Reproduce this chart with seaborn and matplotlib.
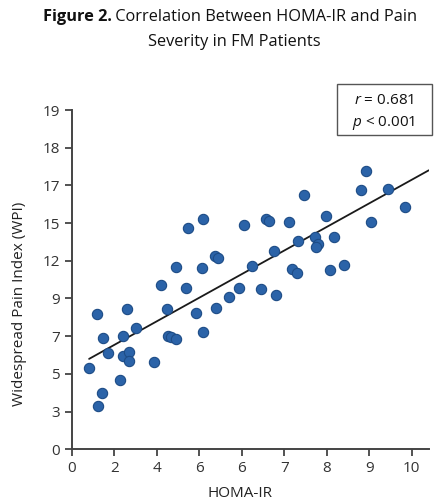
import numpy as np
import matplotlib
matplotlib.use("Agg")
import matplotlib.pyplot as plt
import seaborn as sns
from matplotlib.patches import Rectangle

# HOMA-IR (x) and WPI (y) in tick-position units
homa = [0.41, 0.60, 0.74, 0.85, 0.71, 0.63, 1.14, 1.20, 1.21, 1.36, 1.36, 1.29,
        1.51, 1.94, 2.10, 2.24, 2.27, 2.33, 2.45, 2.69, 2.93, 3.08, 3.39, 3.69,
        3.94, 4.45, 2.45, 3.07, 2.74, 3.08, 3.37, 3.45, 4.05, 4.24, 4.81, 4.57,
        4.65, 4.76, 5.12, 5.18, 5.29, 5.32, 5.47, 5.73, 5.80, 5.75, 5.98, 6.16,
        6.08, 6.41, 6.81, 6.92, 7.04, 7.45, 7.84]
wpi = [2.15, 3.59, 2.94, 2.55, 1.49, 1.15, 1.84, 3.01, 2.48, 2.57, 2.34, 3.71,
       3.21, 2.31, 4.37, 3.71, 3.01, 2.98, 2.92, 4.28, 3.62, 3.10, 3.75, 4.05,
       4.29, 4.24, 4.83, 4.80, 5.86, 6.11, 5.13, 5.07, 5.94, 4.85, 4.09, 6.11,
       6.06, 5.27, 6.02, 4.78, 4.67, 5.53, 6.75, 5.62, 5.44, 5.36, 6.19, 5.64,
       4.76, 4.89, 6.88, 7.39, 6.02, 6.90, 6.44]

x_ticklabels = ["0", "2", "4", "6", "6", "7", "8", "9", "10"]
y_ticklabels = ["0", "3", "5", "7", "9", "12", "15", "17", "18", "19"]

sns.set_style("ticks")
plt.rcParams['font.family'] = ['Open Sans', 'DejaVu Sans']
plt.rcParams['mathtext.fontset'] = 'custom'
plt.rcParams['mathtext.it'] = 'Open Sans:italic'
plt.rcParams['mathtext.rm'] = 'Open Sans'

fig = plt.figure(figsize=(4.36, 5.03), dpi=100)
ax = fig.add_axes([0.1644, 0.1068, 0.8190, 0.6745])

sns.scatterplot(x=homa, y=wpi, ax=ax, s=55, color="#2b63a8",
                edgecolor="#1d4c86", linewidth=0.8, zorder=3)

# least-squares fit line
slope, intercept = np.polyfit(homa, wpi, 1)
xl = np.array([min(homa), 8.4])
ax.plot(xl, slope * xl + intercept, color="#1a1a1a", lw=1.3, zorder=2)

ax.set_xlim(0, 8.4)
ax.set_ylim(0, 9)
ax.set_xticks(range(len(x_ticklabels)))
ax.set_xticklabels(x_ticklabels)
ax.set_yticks(range(len(y_ticklabels)))
ax.set_yticklabels(y_ticklabels)
ax.tick_params(length=5, width=1.3, color="#444444", labelcolor="#333333",
               labelsize=11)
for s in ["left", "bottom"]:
    ax.spines[s].set_color("#444444")
    ax.spines[s].set_linewidth(1.4)
sns.despine(ax=ax)

ax.set_xlabel("HOMA-IR", fontsize=11, color="#222222")
ax.set_ylabel("Widespread Pain Index (WPI)", fontsize=11, color="#222222")
ax.xaxis.set_label_coords(0.471, -0.108)
ax.yaxis.set_label_coords(-0.125, 0.428)

# stats box
fig.patches.append(Rectangle((337 / 436, 1 - 135 / 503), 95 / 436, 51 / 503,
                             transform=fig.transFigure, fill=False,
                             edgecolor="#555555", lw=1.0))
fig.text(384 / 436, 1 - 100 / 503, "$r$ = 0.681", ha="center", va="center",
         fontsize=11, color="#111111")
fig.text(384 / 436, 1 - 123 / 503, "$p$ < 0.001", ha="center", va="center",
         fontsize=11, color="#111111")

# title: bold "Figure 2." + normal text, centered together
cx = 230 / 436
y1 = 1 - 17 / 503
t_bold = fig.text(0, y1, "Figure 2.", fontweight="bold", fontsize=11.8,
                  va="center", color="#111111")
t_rest = fig.text(0, y1, " Correlation Between HOMA-IR and Pain", fontsize=11.8,
                  va="center", color="#111111")
fig.canvas.draw()
r = fig.canvas.get_renderer()
wb = t_bold.get_window_extent(r).width / fig.bbox.width
wr = t_rest.get_window_extent(r).width / fig.bbox.width
x0 = cx - (wb + wr) / 2
t_bold.set_x(x0)
t_rest.set_x(x0 + wb)
fig.text(cx + 0.01, 1 - 42 / 503, "Severity in FM Patients", fontsize=11.8,
         ha="center", va="center", color="#111111")

fig.savefig("out.png", dpi=100)
